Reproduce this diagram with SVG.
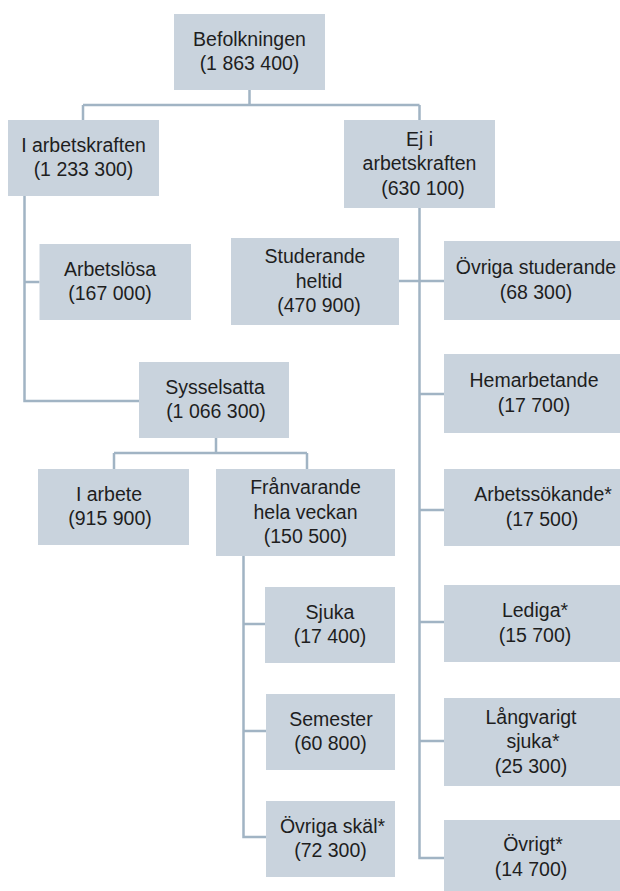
<svg xmlns="http://www.w3.org/2000/svg" width="620" height="891" viewBox="0 0 620 891">
<style>
.box{fill:#c9d3dd}
text{font-family:"Liberation Sans",Arial,sans-serif;font-size:19.5px;fill:#1e1e1e;text-anchor:middle}
.con{fill:none;stroke:#a1b4c4;stroke-width:2.5}
</style>
<rect width="620" height="891" fill="#ffffff"/>
<g id="connectors" class="con">
<path d="M249.5,90V105M83,105H419.5M83,105V120M419.5,105V120"/>
<path d="M24.5,196V401H139M24.5,282H39.5"/>
<path d="M419.5,208V858H444M399,281H444M419.5,394H444M419.5,510H444M419.5,622H444M419.5,741H444"/>
<path d="M216,438V453M114,453H307M114,453V469M307,453V469"/>
<path d="M243.5,556V837H266M243.5,624H265M243.5,731H266"/>
</g>
<g id="befolkningen"><rect class="box" x="174" y="14" width="151" height="76"/><text x="249.5" y="45.5">Befolkningen</text><text x="249.5" y="70">(1 863 400)</text></g>
<g id="i-arbetskraften"><rect class="box" x="8" y="120" width="151" height="76"/><text x="83.5" y="151.5">I arbetskraften</text><text x="83.5" y="176">(1 233 300)</text></g>
<g id="ej-i-arbetskraften"><rect class="box" x="344" y="120" width="151" height="88"/><text x="419.5" y="145.5">Ej i</text><text x="419.5" y="170">arbetskraften</text><text x="423" y="194.5">(630 100)</text></g>
<g id="arbetslosa"><rect class="box" x="39.5" y="244" width="151.5" height="76"/><text x="110" y="275.5">Arbetslösa</text><text x="110" y="300">(167 000)</text></g>
<g id="studerande-heltid"><rect class="box" x="231" y="238" width="168" height="87"/><text x="315" y="263">Studerande</text><text x="319" y="287.5">heltid</text><text x="319" y="312">(470 900)</text></g>
<g id="ovriga-studerande"><rect class="box" x="444" y="241" width="180" height="79"/><text x="536" y="274">Övriga studerande</text><text x="536" y="298.5">(68 300)</text></g>
<g id="sysselsatta"><rect class="box" x="139" y="362" width="150" height="76"/><text x="215" y="393.5">Sysselsatta</text><text x="216" y="418">(1 066 300)</text></g>
<g id="hemarbetande"><rect class="box" x="444" y="354" width="180" height="79"/><text x="534" y="387">Hemarbetande</text><text x="534" y="411.5">(17 700)</text></g>
<g id="i-arbete"><rect class="box" x="38" y="469" width="151" height="76"/><text x="109" y="500.5">I arbete</text><text x="110" y="525">(915 900)</text></g>
<g id="franvarande"><rect class="box" x="216" y="469" width="179" height="87"/><text x="305.5" y="494">Frånvarande</text><text x="305.5" y="518.5">hela veckan</text><text x="305.5" y="543">(150 500)</text></g>
<g id="sjuka"><rect class="box" x="265" y="587" width="130" height="76"/><text x="330" y="618.5">Sjuka</text><text x="330" y="643">(17 400)</text></g>
<g id="semester"><rect class="box" x="266" y="694" width="129" height="76"/><text x="331" y="725.5">Semester</text><text x="330.5" y="750">(60 800)</text></g>
<g id="ovriga-skal"><rect class="box" x="266" y="801" width="129" height="76"/><text x="332.5" y="832.5">Övriga skäl*</text><text x="330.5" y="857">(72 300)</text></g>
<g id="arbetssokande"><rect class="box" x="444" y="469" width="180" height="77"/><text x="543" y="501">Arbetssökande*</text><text x="542" y="525.5">(17 500)</text></g>
<g id="lediga"><rect class="box" x="444" y="585" width="180" height="77"/><text x="535" y="617">Lediga*</text><text x="535" y="641.5">(15 700)</text></g>
<g id="langvarigt-sjuka"><rect class="box" x="444" y="698" width="180" height="88"/><text x="531" y="723.5">Långvarigt</text><text x="533" y="748">sjuka*</text><text x="531" y="772.5">(25 300)</text></g>
<g id="ovrigt"><rect class="box" x="444" y="820" width="180" height="80"/><text x="533" y="851">Övrigt*</text><text x="531" y="875.5">(14 700)</text></g>
</svg>
